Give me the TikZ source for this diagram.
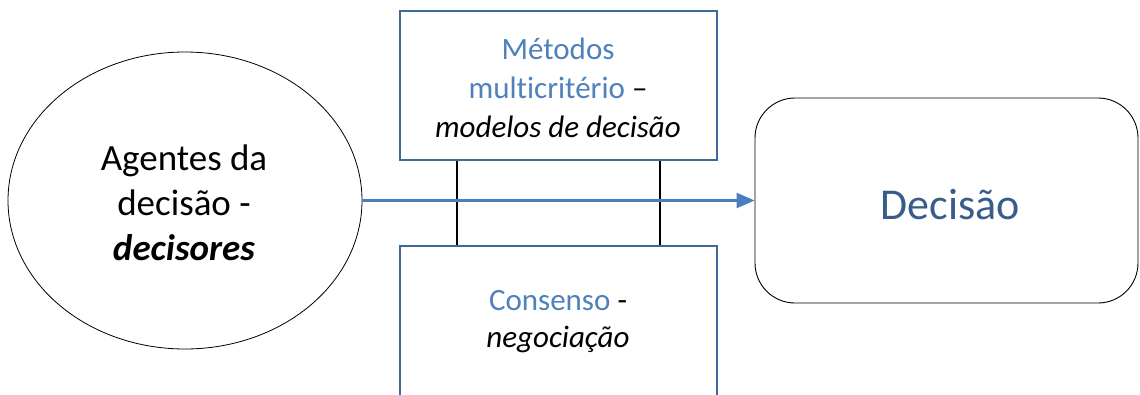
\documentclass[tikz,border=0pt]{standalone}
\usepackage{fontspec}
\setmainfont{Carlito}[Ligatures={NoCommon}]
\usetikzlibrary{shapes.geometric,arrows.meta}
\definecolor{boxblue}{RGB}{65,104,154}
\definecolor{txtblue}{RGB}{79,129,189}
\definecolor{decblue}{RGB}{56,93,138}
\definecolor{arrblue}{RGB}{74,125,187}
\tikzset{
  bluebox/.style={draw=boxblue, line width=2pt, fill=white},
  linktie/.style={draw=black, line width=2pt},
}
\begin{document}
\begin{tikzpicture}[x=1pt,y=-1pt]
\useasboundingbox (0,0) rectangle (1140,394);
% ellipse
\node (ag) [draw=black, line width=0.8pt, ellipse, minimum width=354pt, minimum height=297pt, inner sep=0pt] at (185,200.5) {};
\node (agt) [align=center, font=\fontsize{37}{45}\selectfont, inner sep=0pt] at (184,203)
  {Agentes da\\decisão -\\\textbf{\textit{decisores}}};
% connector lines between boxes
\coordinate (l1t) at (457,160);
\coordinate (l1b) at (457,246);
\coordinate (l2t) at (660,160);
\coordinate (l2b) at (660,246);
\draw[linktie] (l1t) -- (l1b);
\draw[linktie] (l2t) -- (l2b);
% top box
\node (mm) [bluebox, minimum width=317pt, minimum height=149pt, inner sep=0pt] at (558.5,85) {};
\node (mmt) [align=center, font=\fontsize{31}{39}\selectfont, inner sep=0pt] at (558,88)
  {\textcolor{txtblue}{Métodos}\\\textcolor{txtblue}{multicritério} –\\\textit{modelos de decisão}};
% bottom box
\node (cs) [bluebox, minimum width=317pt, minimum height=180pt, inner sep=0pt] at (558.5,336) {};
\node (cst) [align=center, font=\fontsize{31}{37}\selectfont, inner sep=0pt] at (558,322)
  {\textcolor{txtblue}{Consenso} -\\\textit{negociação}};
% decision
\node (dc) [draw=black, line width=0.9pt, rounded corners=40pt, minimum width=383pt, minimum height=205pt, inner sep=0pt] at (946.5,200.5) {};
\node (dct) [font=\fontsize{44}{54}\selectfont, text=decblue, inner sep=0pt, anchor=base] at (950,219) {Decisão};
% arrow
\draw[arrblue, line width=2.5pt, -{Triangle[length=18pt,width=15pt]}] (ag.east) -- (dc.west);
\end{tikzpicture}
\end{document}
